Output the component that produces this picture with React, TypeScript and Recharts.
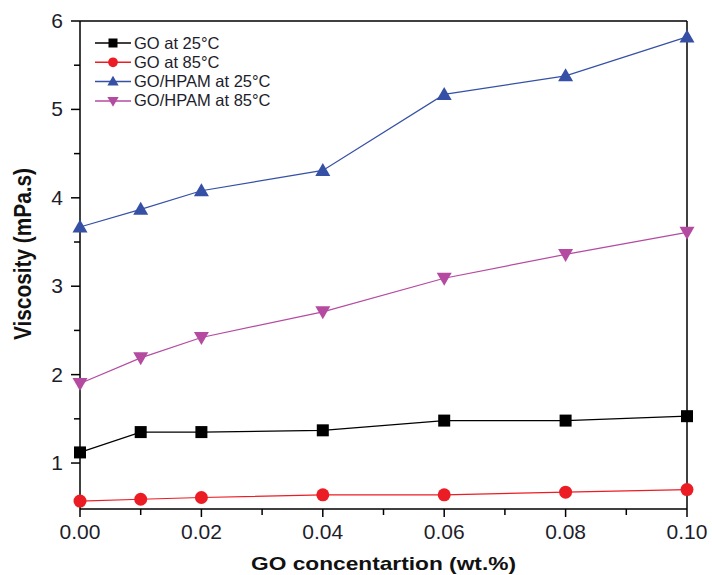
import React from 'react';
import { LineChart, Line, XAxis, YAxis, Legend, ReferenceLine } from 'recharts';

// GO concentration (wt.%)
const concentrations = [0, 0.01, 0.02, 0.04, 0.06, 0.08, 0.1];

// viscosity (mPa.s)
const goAt25 = [1.12, 1.35, 1.35, 1.37, 1.48, 1.48, 1.53];
const goAt85 = [0.57, 0.59, 0.61, 0.64, 0.64, 0.67, 0.70];
const hpamAt25 = [3.67, 3.87, 4.08, 4.31, 5.17, 5.38, 5.82];
const hpamAt85 = [1.90, 2.19, 2.42, 2.71, 3.09, 3.36, 3.61];

const xTicks = [0, 0.01, 0.02, 0.03, 0.04, 0.05, 0.06, 0.07, 0.08, 0.09, 0.1];
const yTicks = [1, 1.5, 2, 2.5, 3, 3.5, 4, 4.5, 5, 5.5, 6];

const seriesNames = ['GO at 25°C', 'GO at 85°C', 'GO/HPAM at 25°C', 'GO/HPAM at 85°C'];

const data = concentrations.map((c, i) => ({
  c,
  go25: goAt25[i],
  go85: goAt85[i],
  hp25: hpamAt25[i],
  hp85: hpamAt85[i],
}));

const FONT = '"Liberation Sans", Arial, sans-serif';
const TICK_COLOR = '#1d1d2b';

type Shape = 'square' | 'circle' | 'up' | 'down';

const Marker = ({ cx, cy, shape, color, size = 1 }: { cx: number; cy: number; shape: Shape; color: string; size?: number }) => {
  if (cx == null || cy == null) return null;
  if (shape === 'square') {
    const s = 6 * size;
    return <rect x={cx - s} y={cy - s} width={s * 2} height={s * 2} fill={color} />;
  }
  if (shape === 'circle') {
    return <circle cx={cx} cy={cy} r={6.5 * size} fill={color} />;
  }
  const w = 7.5 * size;
  const h = 6.5 * size;
  if (shape === 'up') {
    return <polygon points={`${cx},${cy - h - 1} ${cx - w},${cy + h - 1} ${cx + w},${cy + h - 1}`} fill={color} />;
  }
  return <polygon points={`${cx},${cy + h + 1} ${cx - w},${cy - h + 1} ${cx + w},${cy - h + 1}`} fill={color} />;
};

const dotFor = (shape: Shape, color: string) => (props: any) => (
  <Marker key={`${shape}-${props.index}`} cx={props.cx} cy={props.cy} shape={shape} color={color} />
);

const XTick = (props: any) => {
  const { x, y, payload } = props;
  const v = payload.value;
  const major = Math.round(v * 100) % 2 === 0;
  return (
    <g>
      <line x1={x} y1={y} x2={x} y2={y + (major ? 8 : 6)} stroke="#000" strokeWidth={1.5} />
      {major && (
        <text x={x} y={y + 30} textAnchor="middle" fontSize={21} fontFamily={FONT} fill={TICK_COLOR}>
          {v.toFixed(2)}
        </text>
      )}
    </g>
  );
};

const YTick = (props: any) => {
  const { x, y, payload } = props;
  const v = payload.value;
  const major = Number.isInteger(v);
  return (
    <g>
      <line x1={x} y1={y} x2={x - (major ? 9 : 6)} y2={y} stroke="#000" strokeWidth={1.5} />
      {major && (
        <text x={x - 17} y={y + 7} textAnchor="end" fontSize={21} fontFamily={FONT} fill={TICK_COLOR}>
          {v}
        </text>
      )}
    </g>
  );
};

const XTitle = (props: any) => {
  const { viewBox } = props;
  const cx = viewBox.x + viewBox.width / 2;
  return (
    <text
      x={cx}
      y={viewBox.y + viewBox.height - 5}
      textAnchor="middle"
      fontSize={19}
      fontWeight="bold"
      fontFamily={FONT}
      fill="#111"
      textLength={265}
      lengthAdjust="spacingAndGlyphs"
    >
      GO concentartion (wt.%)
    </text>
  );
};

const YTitle = (props: any) => {
  const { viewBox } = props;
  const cy = viewBox.y + viewBox.height / 2 - 11;
  return (
    <text
      transform={`translate(31, ${cy}) rotate(-90) scale(1, 1.2)`}
      x={0}
      y={0}
      textAnchor="middle"
      fontSize={20}
      fontWeight="bold"
      fontFamily={FONT}
      fill="#111"
      textLength={172}
      lengthAdjust="spacingAndGlyphs"
    >
      Viscosity (mPa.s)
    </text>
  );
};

const legendItems: { name: string; shape: Shape; color: string }[] = [
  { name: seriesNames[0], shape: 'square', color: '#000000' },
  { name: seriesNames[1], shape: 'circle', color: '#ec1c24' },
  { name: seriesNames[2], shape: 'up', color: '#3550a5' },
  { name: seriesNames[3], shape: 'down', color: '#b44ba0' },
];

const LegendBox = () => (
  <svg width={210} height={80} style={{ display: 'block' }}>
    {legendItems.map((it, i) => {
      const cy = 8 + i * 19.3;
      return (
        <g key={it.name}>
          <line x1={0} y1={cy} x2={36} y2={cy} stroke={it.color} strokeWidth={1.5} />
          <Marker cx={18} cy={cy} shape={it.shape} color={it.color} size={0.75} />
          <text x={39} y={cy + 5.5} fontSize={16.5} fontFamily={FONT} fill="#1d1d2b">
            {it.name}
          </text>
        </g>
      );
    })}
  </svg>
);

export default function App() {
  return (
    <div style={{ position: 'absolute', left: 0, top: 0, width: 712, height: 575, background: '#fff' }}>
      <LineChart width={712} height={575} data={data} margin={{ top: 21, right: 25, bottom: 0, left: 0 }}>
        <XAxis
          dataKey="c"
          type="number"
          domain={[0, 0.1]}
          ticks={xTicks}
          interval={0}
          height={66}
          tickSize={0}
          tickMargin={0}
          tickLine={false}
          tick={<XTick />}
          axisLine={{ stroke: '#000', strokeWidth: 1.5 }}
          label={{ content: (p: any) => <XTitle {...p} /> }}
        />
        <YAxis
          type="number"
          domain={[0.48, 6]}
          ticks={yTicks}
          interval={0}
          width={80}
          tickSize={0}
          tickMargin={0}
          tickLine={false}
          tick={<YTick />}
          axisLine={{ stroke: '#000', strokeWidth: 1.5 }}
          label={{ content: (p: any) => <YTitle {...p} /> }}
        />
        <ReferenceLine y={6} stroke="#000" strokeWidth={1.5} />
        <ReferenceLine x={0.1} stroke="#000" strokeWidth={1.5} />
        <Legend
          layout="horizontal"
          verticalAlign="middle"
          align="center"
          wrapperStyle={{ top: 35, left: 95, width: 210, height: 80 }}
          content={() => <LegendBox />}
        />
        <Line dataKey="go25" name={seriesNames[0]} stroke="#000000" strokeWidth={1.2} dot={dotFor('square', '#000000')} isAnimationActive={false} />
        <Line dataKey="go85" name={seriesNames[1]} stroke="#ec1c24" strokeWidth={1.2} dot={dotFor('circle', '#ec1c24')} isAnimationActive={false} />
        <Line dataKey="hp25" name={seriesNames[2]} stroke="#3550a5" strokeWidth={1.2} dot={dotFor('up', '#3550a5')} isAnimationActive={false} />
        <Line dataKey="hp85" name={seriesNames[3]} stroke="#b44ba0" strokeWidth={1.2} dot={dotFor('down', '#b44ba0')} isAnimationActive={false} />
      </LineChart>
    </div>
  );
}
